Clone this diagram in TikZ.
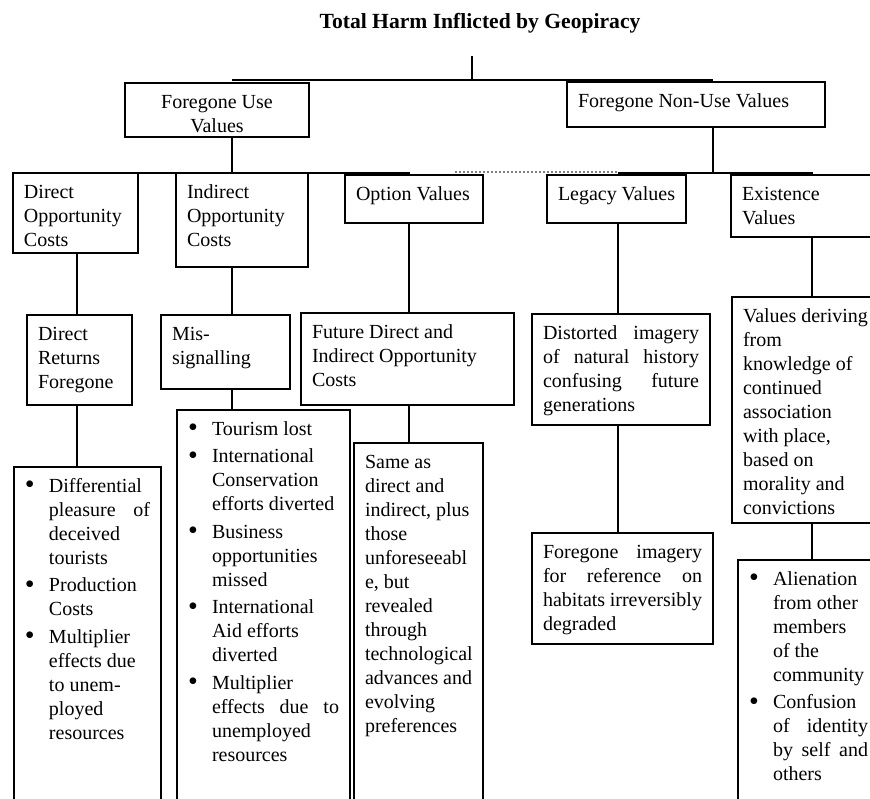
\documentclass[tikz,border=0pt]{standalone}
\usepackage{fontspec}
\setmainfont{Liberation Serif}
\newdimen\pxu \pxu=0.5pt
\newdimen\bxsep \bxsep=5.5pt
\newdimen\bysep \bysep=4.3pt
\newcommand\bitem{\par\hangindent=12pt\hangafter=1\noindent\strut\makebox[12pt][l]{\raisebox{-0.6pt}{\scalebox{1.4}{\textbullet}}}\ignorespaces}
\newcommand\blist{\rightskip=0pt plus 1fil\relax}
\newcommand\mybox[7]{\node[boxst,anchor=north west] (#1) at (#2,#3) {\begin{minipage}[t][\dimexpr #5\pxu-2\bysep\relax][t]{\dimexpr #4\pxu-2\bxsep\relax}\fontsize{10}{12}\selectfont\parskip=1.75pt\relax #6#7\end{minipage}};}
\tikzset{
  boxst/.style={draw, line width=1pt, inner xsep=\bxsep, inner ysep=\bysep, outer sep=0pt},
  conn/.style={line width=1pt},
  bar/.style={line width=1.3pt},
  dotln/.style={densely dotted, gray, line width=1pt}
}
\begin{document}
\begin{tikzpicture}[x=0.5pt,y=-0.5pt]
\useasboundingbox (0,0) rectangle (870,798);
\begin{scope}
\clip (0,0) rectangle (870,798);
\node[font=\fontsize{10.8}{13}\selectfont\bfseries, anchor=base] (title) at (480,28) {Total Harm Inflicted by Geopiracy};

% level 1
\mybox{use}{125}{83}{184}{54}{\centering\strut}{Foregone Use\\Values}
\mybox{nonuse}{567}{82}{258}{45}{\raggedright\strut}{Foregone Non-Use Values}
% level 2
\mybox{doc}{13}{173}{125}{80}{\raggedright\strut}{Direct\\Opportunity\\Costs}
\mybox{ioc}{176}{173}{132}{94}{\raggedright\strut}{Indirect\\Opportunity\\Costs}
\mybox{ov}{345}{175}{138}{48}{\raggedright\strut}{Option Values}
\mybox{lv}{547}{175}{139}{48}{\raggedright\strut}{Legacy Values}
\mybox{ev}{731}{175}{152}{62}{\raggedright\strut}{Existence\\Values}
% level 3
\mybox{drf}{27}{315}{105}{90}{\raggedright\strut}{Direct\\Returns\\Foregone}
\mybox{ms}{161}{315}{129}{74}{\raggedright\strut}{Mis-\\signalling}
\mybox{fdi}{301}{313}{213}{92}{\raggedright\strut}{Future Direct and\\Indirect Opportunity\\Costs}
\mybox{di}{532}{314}{178}{111}{\raggedright\strut}{Distorted\hfill imagery\\of\hfill natural\hfill history\\confusing\hfill future\\generations}
\mybox{vd}{732}{297}{150}{226}{\raggedright\strut}{Values deriving\\from\\knowledge of\\continued\\association\\with place,\\based on\\morality and\\convictions}
% level 4
\mybox{db}{14}{467}{147}{400}{\blist}{\bitem Differential\\pleasure\hfill of\\deceived\\tourists\bitem Production\\Costs\bitem Multiplier\\effects due\\to unem-\\ployed\\resources}
\mybox{ib}{177}{410}{173}{450}{\blist}{\bitem Tourism lost\bitem International\\Conservation\\efforts diverted\bitem Business\\opportunities\\missed\bitem International\\Aid efforts\\diverted\bitem Multiplier\\effects\hfill due\hfill to\\unemployed\\resources}
\mybox{sa}{354}{443}{129}{420}{\raggedright\strut}{Same as\\direct and\\indirect, plus\\those\\unforeseeabl\\e, but\\revealed\\through\\technological\\advances and\\evolving\\preferences}
\mybox{fi}{532}{533}{181}{111}{\raggedright\strut}{Foregone\hfill imagery\\for\hfill reference\hfill on\\habitats\hfill irreversibly\\degraded}
\mybox{al}{738}{560}{141}{300}{\blist}{\bitem Alienation\\from other\\members\\of the\\community\bitem Confusion\\of\hfill identity\\by\hfill self\hfill and\\others}

% coordinates
\coordinate (rt) at (472,56);
\coordinate (barL) at (232,80);
\coordinate (barR) at (713,80);
\coordinate (l2L) at (77,173);
\coordinate (l2M) at (410,173);
\coordinate (l2R1) at (618,173);
\coordinate (l2R2) at (813,173);
\coordinate (dotA) at (455,172);
\coordinate (dotB) at (618,172);
\coordinate (xa) at (77,0);
\coordinate (xb) at (232,0);
\coordinate (xc) at (409,0);
\coordinate (xd) at (618,0);
\coordinate (xe) at (812,0);

% connectors
\draw[conn] (rt) -- (rt |- barL);
\draw[bar] (barL) -- (barR);
\draw[conn] (use.south -| barL) -- (barL |- l2L);
\draw[conn] (nonuse.south -| barR) -- (barR |- l2L);
\draw[bar] (l2L) -- (l2M);
\draw[bar] (l2R1) -- (l2R2);
\draw[dotln] (dotA) -- (dotB);

\draw[conn] (xa |- doc.south) -- (xa |- drf.north);
\draw[conn] (xa |- drf.south) -- (xa |- db.north);
\draw[conn] (xb |- ioc.south) -- (xb |- ms.north);
\draw[conn] (xb |- ms.south) -- (xb |- ib.north);
\draw[conn] (xc |- ov.south) -- (xc |- fdi.north);
\draw[conn] (xc |- fdi.south) -- (xc |- sa.north);
\draw[conn] (xd |- lv.south) -- (xd |- di.north);
\draw[conn] (xd |- di.south) -- (xd |- fi.north);
\draw[conn] (xe |- ev.south) -- (xe |- vd.north);
\draw[conn] (xe |- vd.south) -- (xe |- al.north);
\end{scope}
\end{tikzpicture}
\end{document}
